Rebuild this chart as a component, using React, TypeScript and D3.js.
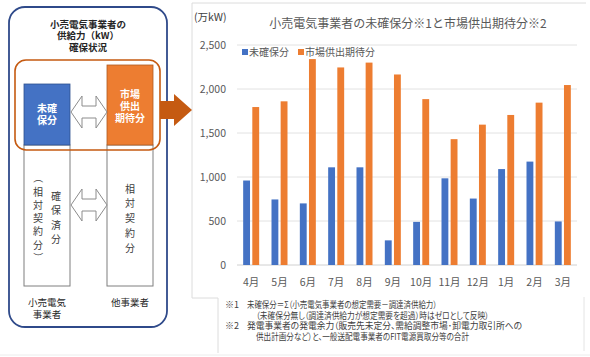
import React from 'react';
import * as d3 from 'd3';

const months = ['4月', '5月', '6月', '7月', '8月', '9月', '10月', '11月', '12月', '1月', '2月', '3月'];
const unsecured = [960, 745, 700, 1110, 1110, 280, 490, 985, 755, 1090, 1175, 495];
const marketSupply = [1795, 1860, 2340, 2245, 2300, 2165, 1885, 1430, 1595, 1705, 1845, 2045];
const yTicks = [0, 500, 1000, 1500, 2000, 2500];
const seriesNames = ['未確保分', '市場供出期待分'];
const seriesColors = ['#4472C4', '#ED7D31'];
const chartTitle = '小売電気事業者の未確保分※1と市場供出期待分※2';
const unitLabel = '(万kW)';
const noteMarks = ['※1', '', '※2', ''];
const noteLines = [
  '未確保分＝Σ（小売電気事業者の想定需要－調達済供給力）',
  '（未確保分無し（調達済供給力が想定需要を超過）時はゼロとして反映）',
  '発電事業者の発電余力（販売先未定分、需給調整市場･卸電力取引所への',
  '供出計画分など）と、一般送配電事業者のFIT電源買取分等の合計',
];
const noteWidths = [190, 233, 275, 213];
const diagramTitle = ['小売電気事業者の', '供給力（kW）', '確保状況'];
const blueBoxText = ['未確', '保分'];
const orangeBoxText = ['市場', '供出', '期待分'];
const leftCol1 = ['（', '相', '対', '契', '約', '分', '）'];
const leftCol2 = ['確', '保', '済', '分'];
const rightCol = ['相', '対', '契', '約', '分'];
const bottomLeft = ['小売電気', '事業者'];
const bottomRight = ['他事業者'];

const FONT = '"Noto Sans CJK JP", "Noto Sans", sans-serif';

function DoubleArrow({ x0, x1, cy }: { x0: number; x1: number; cy: number }) {
  const hh = 16;
  const sh = 6;
  const hl = 11;
  const pts = [
    [x0, cy],
    [x0 + hl, cy - hh],
    [x0 + hl, cy - sh],
    [x1 - hl, cy - sh],
    [x1 - hl, cy - hh],
    [x1, cy],
    [x1 - hl, cy + hh],
    [x1 - hl, cy + sh],
    [x0 + hl, cy + sh],
    [x0 + hl, cy + hh],
  ];
  return <polygon points={pts.map((p) => p.join(',')).join(' ')} fill="#fff" stroke="#8c8c8c" strokeWidth={1} />;
}

export default function App() {
  const x = d3.scaleBand<string>().domain(months).range([237, 577]);
  const y = d3.scaleLinear().domain([0, 2500]).range([265, 45]);
  const inner = d3.scaleBand<string>().domain(['a', 'b']).range([-8, 8]).paddingInner(0.25);
  const fmt = d3.format(',');
  const series = [unsecured, marketSupply];

  return (
    <svg
      width={590}
      height={357}
      style={{ position: 'absolute', left: 0, top: 0, display: 'block', background: '#fff' }}
      fontFamily={FONT}
    >
      {/* panel frames */}
      <line x1={192} y1={3} x2={586} y2={3} stroke="#dcdcdc" />
      <line x1={192} y1={3} x2={192} y2={298} stroke="#dcdcdc" />
      <line x1={192} y1={298} x2={218} y2={298} stroke="#dcdcdc" />
      <line x1={218} y1={298} x2={218} y2={353} stroke="#dcdcdc" />
      <line x1={584} y1={297} x2={584} y2={351} stroke="#e4e4e4" />
      <line x1={0} y1={355} x2={590} y2={355} stroke="#ececec" />

      {/* left diagram */}
      <rect x={9} y={7} width={158} height={320} rx={16} fill="#fff" stroke="#2F4A8A" strokeWidth={1.8} />
      {diagramTitle.map((t, i) => (
        <text key={t} x={88} y={27.5 + i * 11.5} textAnchor="middle" fontSize={9.5} fontWeight="bold" fill="#262626">
          {t}
        </text>
      ))}
      <rect x={24} y={145} width={46} height={141} fill="#fff" stroke="#7f7f7f" strokeWidth={1} />
      <rect x={107} y={145} width={46} height={141} fill="#fff" stroke="#7f7f7f" strokeWidth={1} />
      <rect x={24} y={84} width={46} height={61} fill="#4472C4" stroke="#2F528F" strokeWidth={0.8} />
      <rect x={107} y={65} width={46} height={80} fill="#ED7D31" stroke="#AE5A21" strokeWidth={0.8} />
      <rect x={15} y={60} width={145} height={90} rx={11} fill="none" stroke="#C55A11" strokeWidth={1.6} />
      {blueBoxText.map((t, i) => (
        <text key={t} x={47} y={112 + i * 12} textAnchor="middle" fontSize={10} fontWeight="bold" fill="#fff">
          {t}
        </text>
      ))}
      {orangeBoxText.map((t, i) => (
        <text key={t} x={130} y={98 + i * 11.8} textAnchor="middle" fontSize={10} fontWeight="bold" fill="#fff">
          {t}
        </text>
      ))}
      <DoubleArrow x0={71} x1={107} cy={112} />
      <DoubleArrow x0={71} x1={107} cy={205} />
      {leftCol1.map((t, i) => {
        const cy = 178 + i * 13.2;
        const isParen = t === '（' || t === '）';
        return (
          <text
            key={i}
            x={38}
            y={cy}
            textAnchor="middle"
            dominantBaseline="central"
            fontSize={10}
            fill="#404040"
            transform={isParen ? `rotate(90 38 ${cy})` : undefined}
          >
            {t}
          </text>
        );
      })}
      {leftCol2.map((t, i) => (
        <text key={i} x={56} y={195 + i * 14.5} textAnchor="middle" dominantBaseline="central" fontSize={10} fill="#404040">
          {t}
        </text>
      ))}
      {rightCol.map((t, i) => (
        <text key={i} x={130} y={188 + i * 14.8} textAnchor="middle" dominantBaseline="central" fontSize={10} fill="#404040">
          {t}
        </text>
      ))}
      {bottomLeft.map((t, i) => (
        <text key={t} x={47} y={306 + i * 11.5} textAnchor="middle" fontSize={9.5} fill="#262626">
          {t}
        </text>
      ))}
      {bottomRight.map((t) => (
        <text key={t} x={130} y={306} textAnchor="middle" fontSize={9.5} fill="#262626">
          {t}
        </text>
      ))}

      {/* big arrow */}
      <polygon points="160,101 174,101 174,94 192,110 174,126 174,119 160,119" fill="#C55A11" />

      {/* chart */}
      <text x={194} y={21} fontSize={10.5} fill="#404040">
        {unitLabel}
      </text>
      <text x={408} y={28} textAnchor="middle" fontSize={12} fill="#595959">
        {chartTitle}
      </text>
      {yTicks.map((t) => (
        <g key={t}>
          <line x1={237} x2={577} y1={y(t)} y2={y(t)} stroke={t === 0 ? '#d0d0d0' : '#e2e2e2'} />
          <text x={226} y={y(t)} dy="0.35em" textAnchor="end" fontSize={10.5} fill="#595959">
            {fmt(t)}
          </text>
        </g>
      ))}
      {months.map((m, i) => {
        const c = (x(m) as number) + x.bandwidth() / 2;
        return (
          <g key={m}>
            {series.map((s, j) => (
              <rect
                key={j}
                x={c + (inner(j === 0 ? 'a' : 'b') as number)}
                y={y(s[i])}
                width={inner.bandwidth()}
                height={y(0) - y(s[i])}
                fill={seriesColors[j]}
              />
            ))}
            <text x={c} y={286} textAnchor="middle" fontSize={10.5} fill="#595959">
              {m}
            </text>
          </g>
        );
      })}
      {/* legend */}
      <rect x={242} y={49} width={6} height={6} fill={seriesColors[0]} />
      <text x={249} y={55.5} fontSize={10} fill="#595959">
        {seriesNames[0]}
      </text>
      <rect x={298} y={49} width={6} height={6} fill={seriesColors[1]} />
      <text x={305} y={55.5} fontSize={10} fill="#595959">
        {seriesNames[1]}
      </text>

      {/* notes */}
      {noteLines.map((t, i) => (
        <g key={i}>
          {noteMarks[i] && (
            <text x={225} y={308 + i * 10.7} fontSize={9} fill="#404040">
              {noteMarks[i]}
            </text>
          )}
          <text
            x={i % 2 === 0 ? 247 : 256}
            y={308 + i * 10.7}
            fontSize={9}
            fill="#404040"
            textLength={noteWidths[i]}
            lengthAdjust="spacingAndGlyphs"
            style={{ fontFeatureSettings: '"palt"' }}
          >
            {t}
          </text>
        </g>
      ))}
    </svg>
  );
}
